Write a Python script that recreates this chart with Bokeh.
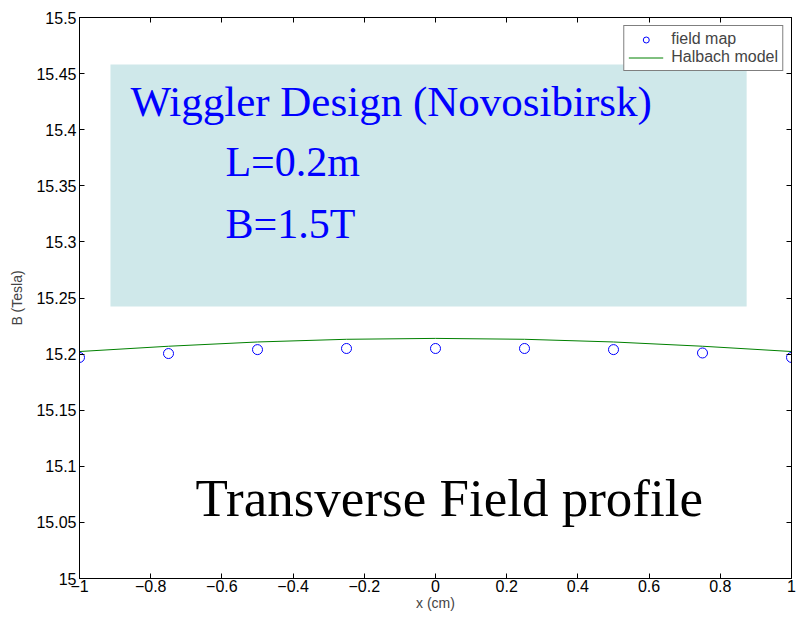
from bokeh.plotting import figure
from bokeh.models import (Label, BoxAnnotation, FixedTicker, LinearAxis, Legend, LegendItem, Range1d,
                          CustomJSTickFormatter)
from bokeh.embed import file_html
from bokeh.resources import INLINE

# data
x_map = [-1.0, -0.75, -0.5, -0.25, 0.0, 0.25, 0.5, 0.75, 1.0]
b_map = [15.197, 15.2005, 15.204, 15.205, 15.205, 15.205, 15.204, 15.201, 15.197]
x_model = [-1.0, -0.75, -0.5, -0.25, 0.0, 0.25, 0.5, 0.75, 1.0]
b_model = [15.2023, 15.207, 15.2108, 15.2132, 15.214, 15.2132, 15.2108, 15.207, 15.2023]

x_ticks = [-1, -0.8, -0.6, -0.4, -0.2, 0, 0.2, 0.4, 0.6, 0.8, 1]
x_tick_labels = ["\u22121", "\u22120.8", "\u22120.6", "\u22120.4", "\u22120.2", "0", "0.2", "0.4", "0.6", "0.8", "1"]
y_ticks = [15, 15.05, 15.1, 15.15, 15.2, 15.25, 15.3, 15.35, 15.4, 15.45, 15.5]
y_tick_labels = ["15", "15.05", "15.1", "15.15", "15.2", "15.25", "15.3", "15.35", "15.4", "15.45", "15.5"]

FONT = "Liberation Sans"
SERIF = "Liberation Serif"

JS = """
let best = 0, d = Infinity;
for (let i = 0; i < tvals.length; i++) {
  const e = Math.abs(tvals[i] - tick);
  if (e < d) { d = e; best = i; }
}
return tshow ? tlabs[best] : "";
"""

p = figure(frame_width=712, frame_height=561, output_backend="svg", toolbar_location=None,
           x_range=Range1d(-1, 1), y_range=Range1d(15, 15.5),
           min_border_left=79, min_border_right=8, min_border_top=17, min_border_bottom=41,
           x_axis_label="x (cm)", y_axis_label="B (Tesla)")
p.background_fill_color = "white"
p.border_fill_color = "white"
p.grid.visible = False
p.outline_line_color = "black"
p.outline_line_width = 1

def style_axis(ax, ticks, labels, show_labels=True):
    ax.ticker = FixedTicker(ticks=ticks)
    ax.formatter = CustomJSTickFormatter(args=dict(tvals=ticks, tlabs=labels, tshow=show_labels), code=JS)
    ax.major_tick_in = 5
    ax.major_tick_out = 0
    ax.minor_tick_in = 0
    ax.minor_tick_out = 0
    ax.axis_line_color = "black"
    ax.major_tick_line_color = "black"
    ax.major_label_text_font = FONT
    ax.major_label_text_color = "black"
    ax.major_label_text_font_size = "16px"
    ax.axis_label_text_font = FONT
    ax.axis_label_text_font_size = "14px"
    ax.axis_label_text_font_style = "normal"
    ax.major_label_standoff = 3

style_axis(p.xaxis[0], x_ticks, x_tick_labels)
style_axis(p.yaxis[0], y_ticks, y_tick_labels)
p.yaxis.axis_label_standoff = 8
p.xaxis.major_label_standoff = 1
p.xaxis.axis_label_standoff = 0
top = LinearAxis()
right = LinearAxis()
style_axis(top, x_ticks, x_tick_labels, False)
style_axis(right, y_ticks, y_tick_labels, False)
p.add_layout(top, "above")
p.add_layout(right, "right")

# cyan box
p.add_layout(BoxAnnotation(left=-0.913, right=0.874, bottom=15.2424, top=15.458,
                           fill_color="#cfe8ea", fill_alpha=1.0, line_color=None, level="underlay"))

line = p.line(x_model, b_model, line_color="#008000", line_width=1)
pts = p.scatter(x_map, b_map, marker="circle", size=10, fill_color=None,
                line_color="#0000ff", line_width=1)

legend = Legend(items=[LegendItem(label="field map", renderers=[pts]),
                       LegendItem(label="Halbach model", renderers=[line])],
                location="top_right", margin=8, padding=4, spacing=0,
                label_text_font=FONT, label_text_font_size="16px",
                label_height=15, glyph_height=15, glyph_width=35, label_standoff=8,
                border_line_color="black", border_line_width=1,
                background_fill_color="white", background_fill_alpha=1.0)
p.add_layout(legend)

p.add_layout(Label(x=-0.857, y=15.4252, text="Wiggler Design (Novosibirsk)",
                   text_font=SERIF, text_font_size="43px", text_color="#0000ff",
                   text_baseline="alphabetic"))
p.add_layout(Label(x=-0.590, y=15.3708, text="L=0.2m",
                   text_font=SERIF, text_font_size="42px", text_color="#0000ff",
                   text_baseline="alphabetic"))
p.add_layout(Label(x=-0.590, y=15.3163, text="B=1.5T",
                   text_font=SERIF, text_font_size="42px", text_color="#0000ff",
                   text_baseline="alphabetic"))
p.add_layout(Label(x=-0.674, y=15.0714, text="Transverse Field profile",
                   text_font=SERIF, text_font_size="53px", text_color="black",
                   text_baseline="alphabetic"))

open("out.html", "w").write(file_html(p, INLINE))
